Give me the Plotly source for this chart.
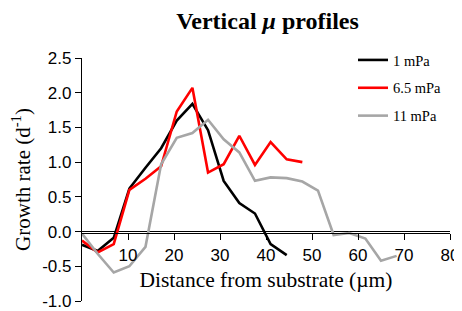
import plotly.graph_objects as go

# Data
x_1mPa = [0, 3.4, 6.9, 10.3, 13.8, 17.2, 20.6, 24.0, 27.4, 30.8, 34.2, 37.6, 41.0, 44.5]
y_1mPa = [-0.19, -0.28, -0.09, 0.62, 0.92, 1.20, 1.60, 1.84, 1.46, 0.73, 0.41, 0.26, -0.18, -0.34]

x_65mPa = [0, 3.4, 6.9, 10.3, 13.8, 17.2, 20.6, 24.0, 27.4, 30.8, 34.2, 37.6, 41.0, 44.5, 47.9]
y_65mPa = [-0.13, -0.30, -0.18, 0.60, 0.76, 0.94, 1.73, 2.07, 0.85, 0.97, 1.38, 0.96, 1.29, 1.04, 1.00]

x_11mPa = [0, 3.4, 6.9, 10.3, 13.8, 17.2, 20.6, 24.0, 27.4, 30.8, 34.2, 37.6, 41.0, 44.5, 47.9,
           51.3, 54.7, 58.1, 61.6, 65.0, 68.4]
y_11mPa = [-0.03, -0.32, -0.59, -0.50, -0.22, 0.97, 1.35, 1.42, 1.61, 1.33, 1.14, 0.73, 0.78, 0.77, 0.72,
           0.59, -0.05, -0.02, -0.10, -0.42, -0.35]

series_names = ["1 mPa", "6.5 mPa", "11 mPa"]
series_colors = ["#000000", "#ff0000", "#a6a6a6"]

y_tickvals = [-1.0, -0.5, 0.0, 0.5, 1.0, 1.5, 2.0, 2.5]
y_ticktext = ["-1.0", "-0.5", "0.0", "0.5", "1.0", "1.5", "2.0", "2.5"]
x_tickvals = [10, 20, 30, 40, 50, 60, 70, 80]
x_ticktext = ["10", "20", "30", "40", "50", "60", "70", "80"]

fig = go.Figure()
for xs, ys, name, col in zip([x_1mPa, x_65mPa, x_11mPa], [y_1mPa, y_65mPa, y_11mPa],
                             series_names, series_colors):
    fig.add_trace(go.Scatter(x=xs, y=ys, mode="lines", name=name, legendgroup=name,
                             line=dict(color=col, width=2.6), cliponaxis=False))

serif = "Liberation Serif, Times New Roman, serif"
sans = "Liberation Sans, Arial, sans-serif"

# The page body adds an 8 px offset, so the figure is 8 px smaller and shifted.
W, H = 454, 303
ml, mr, mt, mb = 74, 12, 10, 10
paper_h = H - mt - mb
paper_w = W - ml - mr
plot_top_px = 50               # y = 2.5
zero_px = 225                  # y = 0.0
ydom_top = (H - mb - plot_top_px) / paper_h
x_pos = (H - mb - zero_px) / paper_h

fig.update_layout(
    width=W, height=H,
    margin=dict(l=ml, r=mr, t=mt, b=mb, autoexpand=False),
    paper_bgcolor="white", plot_bgcolor="white",
    title=dict(text="<b>Vertical <i>μ</i> profiles</b>", font=dict(family=serif, size=24, color="black"),
               x=(259.5 - ml) / paper_w, xref="paper", xanchor="center", y=1 - 13/H, yref="container",
               yanchor="middle"),
    showlegend=True,
    legend=dict(x=(345 - ml) / paper_w, y=(H - mb - 36) / paper_h, xanchor="left", yanchor="top",
                font=dict(family=serif, size=14.5, color="black"),
                tracegroupgap=6, bgcolor="rgba(0,0,0,0)", itemwidth=30),
    xaxis=dict(range=[0, 80], anchor="free", position=x_pos, showline=True, linecolor="black", linewidth=1.3,
               ticks="outside", ticklen=6, tickwidth=1.3, tickcolor="black", showgrid=False, zeroline=False,
               automargin=False,
               tickvals=x_tickvals, ticktext=x_ticktext, tickfont=dict(family=sans, size=17, color="black"),
               title=dict(text="Distance from substrate (µm)", font=dict(family=serif, size=21.5, color="black"),
                          standoff=8)),
    yaxis=dict(range=[-1.0, 2.5], domain=[0, ydom_top], showline=True, linecolor="black", linewidth=1.3,
               ticks="outside", ticklen=6, tickwidth=1.3, tickcolor="black", showgrid=False, zeroline=True,
               zerolinecolor="black", zerolinewidth=1.3, automargin=False,
               tickvals=y_tickvals, ticktext=y_ticktext, tickfont=dict(family=sans, size=17, color="black"),
               title=dict(text="Growth rate (d<sup>-1</sup>)", font=dict(family=serif, size=21, color="black"),
                          standoff=6)),
)

fig.write_html("out.html")
